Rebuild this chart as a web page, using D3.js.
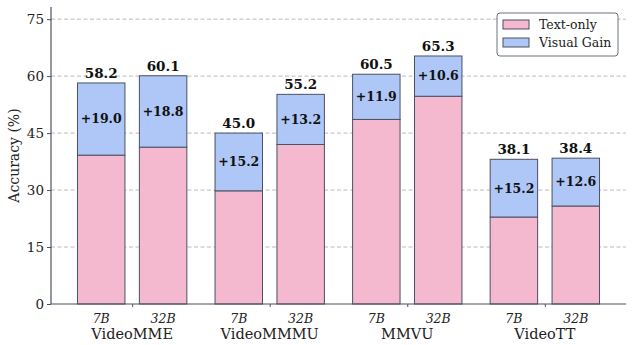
<!DOCTYPE html>
<html>
<head>
<meta charset="utf-8">
<script src="https://cdn.jsdelivr.net/npm/d3@7"></script>
<style>
  html, body { margin: 0; padding: 0; background: #fff; }
  svg { display: block; }
</style>
</head>
<body>
<svg id="chart" width="633" height="345"></svg>
<script>
// Benchmarks and model sizes
const benchmarks = ["VideoMME", "VideoMMMU", "MMVU", "VideoTT"];
const sizes = ["7B", "32B"];
// Totals (accuracy with visual input) per benchmark, [7B, 32B]
const totals = [[58.2, 60.1], [45.0, 55.2], [60.5, 65.3], [38.1, 38.4]];
// Gain from visual input per benchmark, [7B, 32B]
const gains = [[19.0, 18.8], [15.2, 13.2], [11.9, 10.6], [15.2, 12.6]];
const yTicks = [0, 15, 30, 45, 60, 75];
const seriesNames = ["Text-only", "Visual Gain"];
const colors = ["#F4B8CF", "#AEC7F7"];

const FONT = "'DejaVu Serif', 'Liberation Serif', serif";
const svg = d3.select("#chart");
const margin = { left: 51, right: 7, top: 7, bottom: 41 };
const W = 633, H = 345;

const x = d3.scaleLinear().domain([-0.59, 3.59]).range([margin.left, W - margin.right]);
const y = d3.scaleLinear().domain([0, 78.2]).range([H - margin.bottom, margin.top]);
const barOffset = 0.225, barW = 0.345;

// gridlines
svg.append("g").selectAll("line").data(yTicks.filter(d => d > 0)).join("line")
  .attr("x1", margin.left).attr("x2", W - margin.right)
  .attr("y1", d => y(d)).attr("y2", d => y(d))
  .attr("stroke", "#b3b3b3").attr("stroke-width", 0.9)
  .attr("stroke-dasharray", "4,2.5");

// flattened records
const recs = [];
benchmarks.forEach((b, i) => sizes.forEach((s, j) => {
  const total = totals[i][j], gain = gains[i][j];
  recs.push({ b, s, i, j, total, gain, base: +(total - gain).toFixed(1),
              cx: i + (j === 0 ? -barOffset : barOffset) });
}));

const bars = svg.append("g");
const edge = "#4a5163";
bars.selectAll("rect.base").data(recs).join("rect")
  .attr("x", d => x(d.cx - barW / 2)).attr("width", d => x(barW) - x(0))
  .attr("y", d => y(d.base)).attr("height", d => y(0) - y(d.base))
  .attr("fill", colors[0]).attr("stroke", edge).attr("stroke-width", 1);
bars.selectAll("rect.gain").data(recs).join("rect")
  .attr("x", d => x(d.cx - barW / 2)).attr("width", d => x(barW) - x(0))
  .attr("y", d => y(d.total)).attr("height", d => y(d.base) - y(d.total))
  .attr("fill", colors[1]).attr("stroke", edge).attr("stroke-width", 1);

// gain labels
bars.selectAll("text.gain").data(recs).join("text")
  .attr("x", d => x(d.cx)).attr("y", d => y((d.base + d.total) / 2))
  .attr("dy", "0.35em").attr("text-anchor", "middle")
  .attr("font-size", 12.5).attr("font-weight", "bold").attr("fill", "#111")
  .text(d => "+" + d.gain.toFixed(1));

// total labels
bars.selectAll("text.total").data(recs).join("text")
  .attr("x", d => x(d.cx)).attr("y", d => y(d.total) - 5)
  .attr("text-anchor", "middle")
  .attr("font-size", 13.5).attr("font-weight", "bold").attr("fill", "#111")
  .text(d => d.total.toFixed(1));

// axes
const axisColor = "#4a5163";
const yAxis = svg.append("g").attr("transform", `translate(${margin.left},0)`)
  .call(d3.axisLeft(y).tickValues(yTicks).tickSize(4).tickPadding(3));
yAxis.select(".domain").attr("d", `M0,${y(78.2)}V${y(0)}`).attr("stroke", axisColor).attr("stroke-width", 1.2);
yAxis.selectAll(".tick line").attr("stroke", axisColor);
yAxis.selectAll(".tick text").attr("font-size", 13.5).attr("fill", "#222");

const xAxis = svg.append("g").attr("transform", `translate(0,${y(0)})`)
  .call(d3.axisBottom(x).tickValues(d3.range(benchmarks.length)).tickSize(3).tickFormat(""));
xAxis.select(".domain").attr("d", `M${margin.left},0H${W - margin.right}`).attr("stroke", axisColor).attr("stroke-width", 1.2);
xAxis.selectAll(".tick line").attr("stroke", axisColor);

// size labels
svg.append("g").selectAll("text").data(recs).join("text")
  .attr("x", d => x(d.cx)).attr("y", y(0) + 19)
  .attr("text-anchor", "middle").attr("font-style", "italic")
  .attr("font-size", 12.5).attr("fill", "#222")
  .text(d => d.s);

// benchmark labels
svg.append("g").selectAll("text").data(benchmarks).join("text")
  .attr("x", (d, i) => x(i)).attr("y", y(0) + 35)
  .attr("text-anchor", "middle").attr("font-size", 14.5).attr("fill", "#222")
  .text(d => d);

// y title
svg.append("text")
  .attr("transform", `translate(19,${(y(0) + y(78.2)) / 2}) rotate(-90)`)
  .attr("text-anchor", "middle").attr("font-size", 14).attr("fill", "#222")
  .text("Accuracy (%)");

// legend
const lg = svg.append("g").attr("transform", "translate(497,13)");
lg.append("rect").attr("width", 121).attr("height", 43).attr("rx", 3)
  .attr("fill", "#fff").attr("fill-opacity", 0.9).attr("stroke", "#6b7280").attr("stroke-width", 1);
seriesNames.forEach((n, k) => {
  const gy = 7 + k * 18;
  lg.append("rect").attr("x", 6).attr("y", gy).attr("width", 26).attr("height", 9)
    .attr("fill", colors[k]).attr("stroke", edge).attr("stroke-width", 1);
  lg.append("text").attr("x", 42).attr("y", gy + 9).attr("font-size", 12.5).attr("fill", "#222").text(n);
});

// serif type throughout
svg.selectAll("text").attr("font-family", FONT);
</script>
</body>
</html>
